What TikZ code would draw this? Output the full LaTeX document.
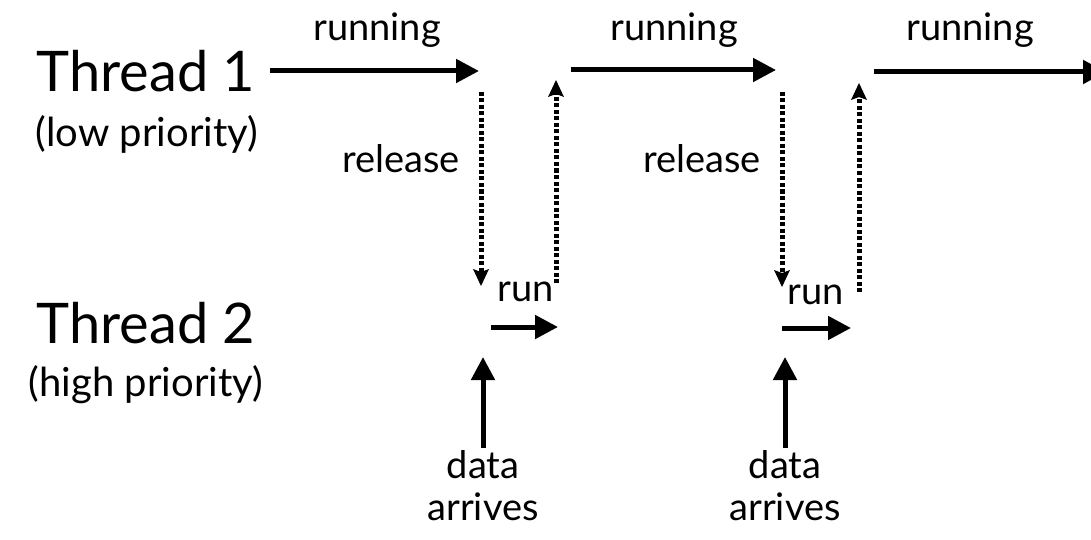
\documentclass[tikz,border=0pt]{standalone}
\usepackage{fontspec}
\setmainfont{Lato}
\usetikzlibrary{arrows.meta}
\begin{document}
\begin{tikzpicture}[x=1pt,y=-1pt,
  lbl/.style={inner sep=0pt, anchor=base, font=\fontsize{38}{42}\selectfont},
  big/.style={inner sep=0pt, anchor=base, font=\fontsize{56}{62}\selectfont},
  sub/.style={inner sep=0pt, anchor=base, font=\fontsize{40}{46}\selectfont},
  solidarrow/.style={line width=5pt, -{Triangle[length=23pt,width=23pt]}},
  dotline/.style={line width=5pt, dash pattern=on 4pt off 2.5pt},
  dottip/.style={-{Stealth[length=17pt,width=16pt,inset=3pt,line width=0pt]}},
]
\useasboundingbox (0,0) rectangle (1091,540);

% labels
\node[big] (t1) at (146,92) {Thread 1};
\node[sub] (t1p) at (147,147) {(low priority)};
\node[big] (t2) at (146,343) {Thread 2};
\node[sub] (t2p) at (146,396) {(high priority)};

\node[lbl] (run1) at (377,41) {running};
\node[lbl] (run2) at (674,41) {running};
\node[lbl] (run3) at (970,41) {running};
\node[lbl] (rel1) at (401,172) {release};
\node[lbl] (rel2) at (702,172) {release};
\node[lbl] (r1) at (526,301) {run};
\node[lbl] (r2) at (816,304) {run};
\node[lbl] (d1) at (483,478) {data};
\node[lbl] (ar1) at (483,520) {arrives};
\node[lbl] (d2) at (785,478) {data};
\node[lbl] (ar2) at (785,520) {arrives};

% coordinates
\coordinate (a1s) at (270,71);  \coordinate (a1e) at (479,71);
\coordinate (a2s) at (571,70);  \coordinate (a2e) at (776,70);
\coordinate (a3s) at (874,72);  \coordinate (a3e) at (1106,72);
\coordinate (dn1s) at (481,92); \coordinate (dn1e) at (481,286);
\coordinate (up1s) at (556,283); \coordinate (up1e) at (556,80);
\coordinate (dn2s) at (782,92); \coordinate (dn2e) at (782,287);
\coordinate (up2s) at (859,292); \coordinate (up2e) at (859,83);
\coordinate (s1s) at (491,327); \coordinate (s1e) at (558,327);
\coordinate (s2s) at (782,328); \coordinate (s2e) at (851,328);
\coordinate (da1s) at (483,448); \coordinate (da1e) at (483,357);
\coordinate (da2s) at (785,448); \coordinate (da2e) at (785,357);

% arrows
\draw[solidarrow] (a1s) -- (a1e);
\draw[solidarrow] (a2s) -- (a2e);
\draw[solidarrow] (a3s) -- (a3e);
\draw[dotline, dottip] (dn1s) -- (dn1e);
\draw[dotline, dottip] (up1s) -- (up1e);
\draw[dotline, dottip] (dn2s) -- (dn2e);
\draw[dotline, dottip] (up2s) -- (up2e);
\draw[solidarrow] (s1s) -- (s1e);
\draw[solidarrow] (s2s) -- (s2e);
\draw[solidarrow] (da1s) -- (da1e);
\draw[solidarrow] (da2s) -- (da2e);
\end{tikzpicture}
\end{document}
